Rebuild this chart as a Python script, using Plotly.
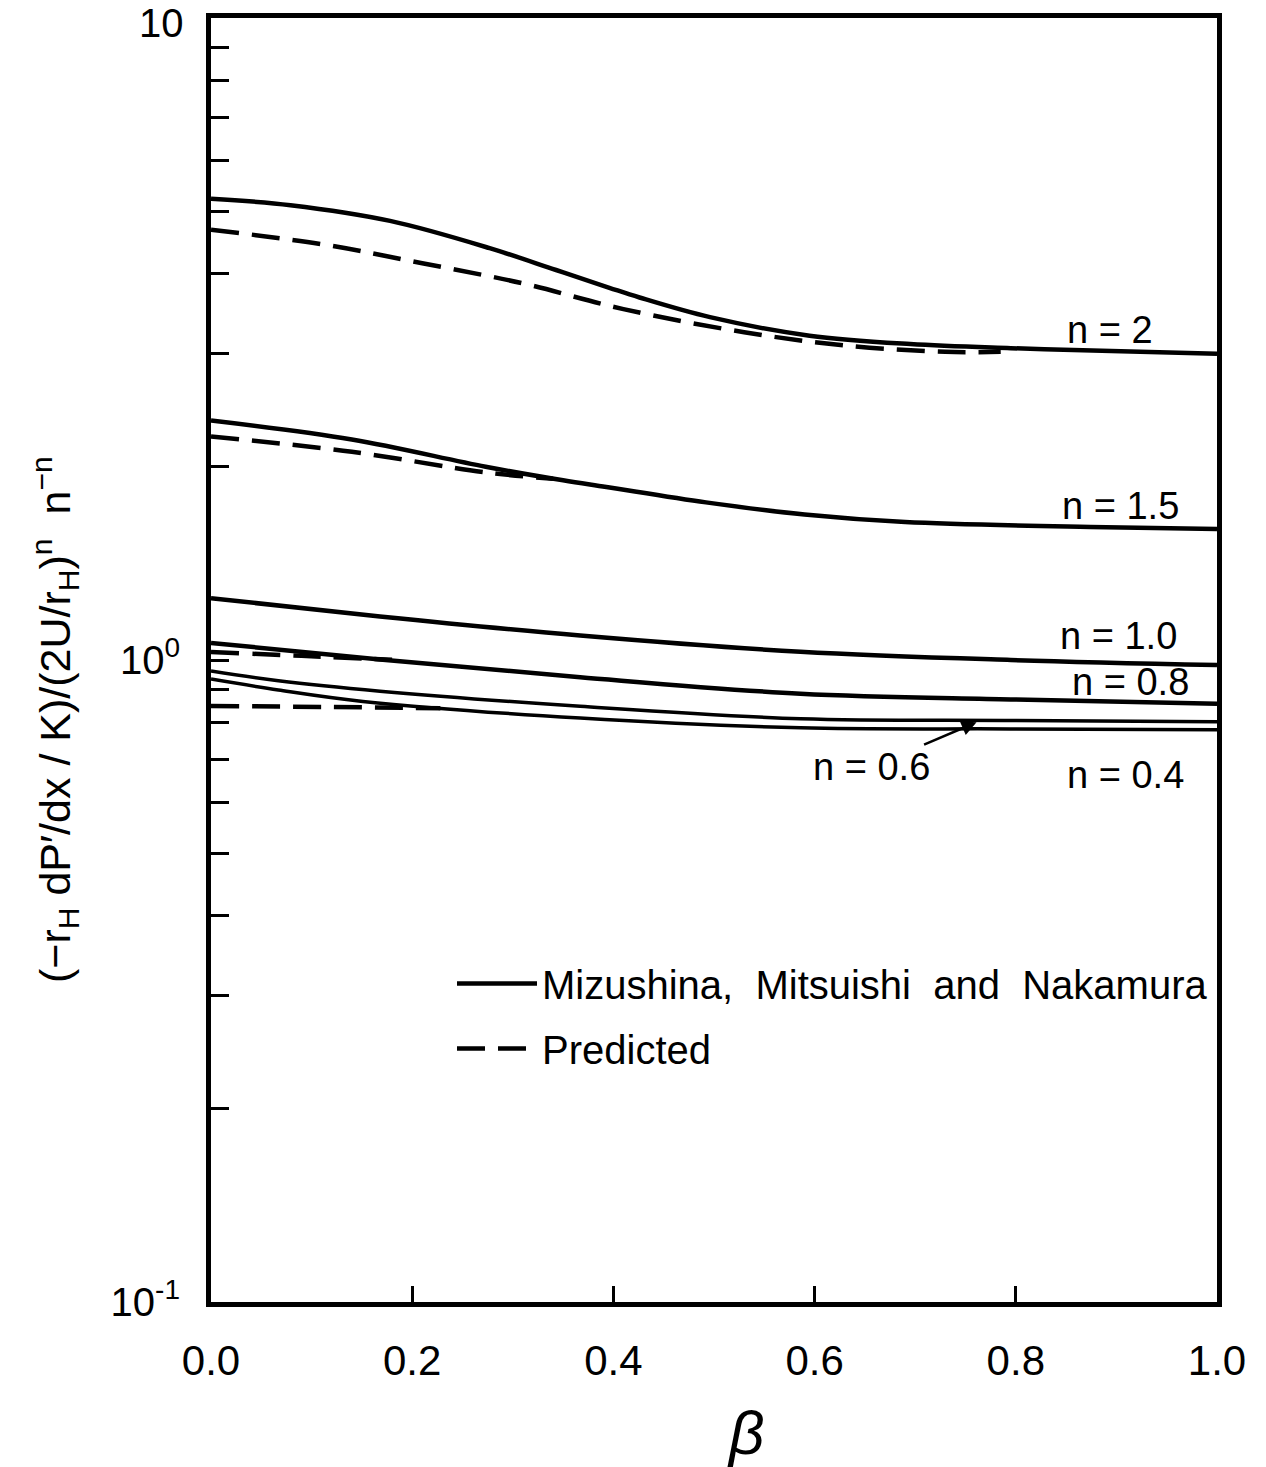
import plotly.graph_objects as go
import numpy as np

# ---- data (beta, normalized pressure gradient) ----
beta_n2 = [0.0, 0.079, 0.178, 0.277, 0.343, 0.396, 0.426, 0.496, 0.595, 0.695, 0.795, 0.895, 1.0]
val_n2 = [5.23, 5.11, 4.83, 4.38, 4.05, 3.80, 3.67, 3.42, 3.20, 3.105, 3.06, 3.03, 3.0]
beta_n2_pred = [0.0, 0.111, 0.21, 0.31, 0.41, 0.53, 0.63, 0.73, 0.785]
val_n2_pred = [4.68, 4.44, 4.15, 3.86, 3.52, 3.24, 3.09, 3.02, 3.02]

beta_n15 = [0.0, 0.14, 0.273, 0.35, 0.393, 0.492, 0.59, 0.69, 0.89, 1.0]
val_n15 = [2.36, 2.205, 2.00, 1.905, 1.86, 1.76, 1.685, 1.64, 1.61, 1.60]
beta_n15_pred = [0.0, 0.14, 0.273, 0.34]
val_n15_pred = [2.23, 2.11, 1.96, 1.915]

beta_n10 = [0.0, 0.168, 0.367, 0.586, 0.795, 1.0]
val_n10 = [1.248, 1.169, 1.092, 1.03, 1.0, 0.982]

beta_n08 = [0.0, 0.168, 0.367, 0.586, 0.795, 1.0]
val_n08 = [1.063, 1.002, 0.94, 0.886, 0.868, 0.855]
beta_n08_pred = [0.0, 0.09, 0.18]
val_n08_pred = [1.029, 1.015, 1.001]

beta_n06 = [0.0, 0.067, 0.168, 0.367, 0.586, 0.795, 1.0]
val_n06 = [0.961, 0.928, 0.894, 0.847, 0.81, 0.805, 0.801]

beta_n04 = [0.0, 0.067, 0.151, 0.367, 0.586, 0.795, 1.0]
val_n04 = [0.934, 0.898, 0.862, 0.812, 0.784, 0.781, 0.779]
beta_n04_pred = [0.0, 0.114, 0.228]
val_n04_pred = [0.848, 0.845, 0.841]

x_tickvals = [0.0, 0.2, 0.4, 0.6, 0.8, 1.0]
x_ticktext = ["0.0", "0.2", "0.4", "0.6", "0.8", "1.0"]

y_tickvals = [0.1, 0.2, 0.3, 0.4, 0.5, 0.6, 0.7, 0.8, 0.9, 1,
              2, 3, 4, 5, 6, 7, 8, 9, 10]
y_ticktext = ["10<sup>-1</sup>", "", "", "", "", "", "", "", "", "10<sup>0</sup>",
              "", "", "", "", "", "", "", "", ""]
y_top_label = "10"

curve_labels = ["n = 2", "n = 1.5", "n = 1.0", "n = 0.8", "n = 0.4"]
label_beta = [0.894, 0.904, 0.902, 0.914, 0.909]
label_val = [3.27, 1.74, 1.09, 0.924, 0.662]

FONT = "Liberation Sans"
solid_w = 4.5
dash_pat = "28px,13px"

fig = go.Figure()

solid_sets = [(beta_n2, val_n2, solid_w), (beta_n15, val_n15, solid_w),
              (beta_n10, val_n10, solid_w), (beta_n08, val_n08, solid_w),
              (beta_n06, val_n06, 3.5), (beta_n04, val_n04, 3.5)]
for i, (bx, vy, w) in enumerate(solid_sets):
    fig.add_trace(go.Scatter(
        x=bx, y=vy, mode="lines", line=dict(color="black", width=w, shape="spline"),
        name="Mizushina,  Mitsuishi  and  Nakamura", legendgroup="mmn",
        showlegend=(i == 0)))

dash_sets = [(beta_n2_pred, val_n2_pred), (beta_n15_pred, val_n15_pred),
             (beta_n08_pred, val_n08_pred), (beta_n04_pred, val_n04_pred)]
for i, (bx, vy) in enumerate(dash_sets):
    fig.add_trace(go.Scatter(
        x=bx, y=vy, mode="lines",
        line=dict(color="black", width=solid_w, dash=dash_pat, shape="spline"),
        name="Predicted", legendgroup="pred", showlegend=(i == 0)))

for txt, bx, vy in zip(curve_labels, label_beta, label_val):
    fig.add_annotation(x=bx, y=np.log10(vy), text=txt, showarrow=False,
                       font=dict(family=FONT, size=38, color="black"))

# n = 0.6 with arrow
fig.add_annotation(x=0.761, y=np.log10(0.80), text="n = 0.6", showarrow=True,
                   arrowhead=2, arrowsize=1.2, arrowwidth=2.5, arrowcolor="black",
                   ax=-105, ay=45, font=dict(family=FONT, size=38, color="black"))

# top decade label (kept as an annotation so it is not dropped at the axis end)
fig.add_annotation(xref="paper", yref="y", x=(186 - 211) / 1006, y=np.log10(10) - 0.008,
                   xanchor="right", yanchor="middle", text=y_top_label, showarrow=False,
                   font=dict(family=FONT, size=40, color="black"))

# y-axis title
fig.add_annotation(xref="paper", yref="paper", x=(55 - 211) / 1006, y=(1302 - 720) / 1284,
                   xanchor="center", yanchor="middle",
                   text="(−r<sub>H</sub> dP′/dx / K)/(2U/r<sub>H</sub>)<sup>n</sup>  n<sup>−n</sup>",
                   textangle=-90, showarrow=False,
                   font=dict(family=FONT, size=43, color="black"))

# beta label
fig.add_annotation(xref="paper", yref="paper", x=(745 - 211) / 1006, y=(1302 - 1432) / 1284,
                   xanchor="center", yanchor="middle",
                   text="<i>β</i>", showarrow=False,
                   font=dict(family=FONT, size=62, color="black"))

fig.update_layout(
    width=1266, height=1467,
    margin=dict(l=211, r=49, t=18, b=165),
    paper_bgcolor="white", plot_bgcolor="white",
    font=dict(family=FONT, color="black"),
    showlegend=True,
    legend=dict(x=(452 - 211) / 1006, y=(1302 - 951) / 1284, xanchor="left", yanchor="top",
                bgcolor="rgba(0,0,0,0)", font=dict(family=FONT, size=40, color="black"),
                itemwidth=80, tracegroupgap=10, traceorder="grouped"),
    xaxis=dict(range=[0, 1], tickvals=x_tickvals, ticktext=x_ticktext,
               ticks="inside", ticklen=16, tickwidth=3, tickcolor="black",
               showline=True, linewidth=5, linecolor="black", mirror=True,
               showgrid=False, zeroline=False, ticklabelstandoff=18,
               tickfont=dict(family=FONT, size=42, color="black")),
    yaxis=dict(type="log", range=[-1, 1], tickvals=y_tickvals, ticktext=y_ticktext,
               ticks="inside", ticklen=18, tickwidth=3, tickcolor="black",
               showline=True, linewidth=5, linecolor="black", mirror=True,
               showgrid=False, zeroline=False, ticklabelstandoff=18,
               tickfont=dict(family=FONT, size=40, color="black")),
)

fig.write_html("out.html")
